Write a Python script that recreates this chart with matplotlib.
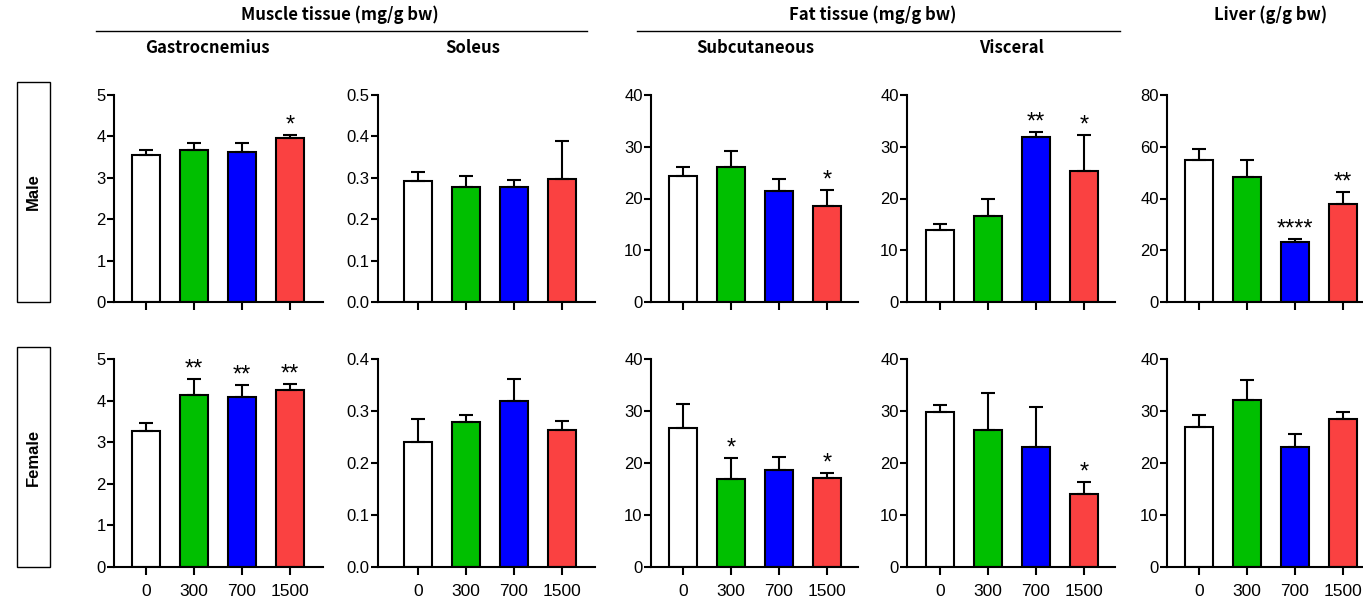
import os
import matplotlib
matplotlib.use("Agg")
import matplotlib.pyplot as plt
import matplotlib.font_manager as fm
from matplotlib.font_manager import FontProperties
from matplotlib.patches import Rectangle
from matplotlib.lines import Line2D
import numpy as np

# Dose groups (mg/kg) and bar colours
doses = ["0", "300", "700", "1500"]
bar_colors = ["#FFFFFF", "#00BF00", "#0000FF", "#FA4141"]

# Male: means and upper SEM
gas_m = [3.56, 3.67, 3.62, 3.95]
gas_m_sem = [0.11, 0.18, 0.23, 0.09]
sol_m = [0.292, 0.278, 0.278, 0.297]
sol_m_sem = [0.021, 0.027, 0.017, 0.093]
sub_m = [24.4, 26.1, 21.4, 18.5]
sub_m_sem = [1.6, 3.0, 2.3, 3.2]
vis_m = [14.0, 16.6, 31.9, 25.3]
vis_m_sem = [1.1, 3.4, 0.9, 6.9]
liv_m = [54.8, 48.3, 23.0, 37.9]
liv_m_sem = [4.2, 6.4, 1.3, 4.6]

# Female: means and upper SEM
gas_f = [3.26, 4.14, 4.08, 4.26]
gas_f_sem = [0.19, 0.37, 0.30, 0.14]
sol_f = [0.241, 0.279, 0.319, 0.263]
sol_f_sem = [0.044, 0.013, 0.042, 0.017]
sub_f = [26.7, 16.9, 18.7, 17.1]
sub_f_sem = [4.7, 4.1, 2.5, 1.0]
vis_f = [29.8, 26.3, 23.1, 14.0]
vis_f_sem = [1.3, 7.2, 7.7, 2.4]
liv_f = [26.9, 32.2, 23.1, 28.5]
liv_f_sem = [2.3, 3.8, 2.5, 1.4]

# Significance marks
sig_gas_m = ["", "", "", "*"]
sig_sol_m = ["", "", "", ""]
sig_sub_m = ["", "", "", "*"]
sig_vis_m = ["", "", "**", "*"]
sig_liv_m = ["", "", "****", "**"]
sig_gas_f = ["", "**", "**", "**"]
sig_sol_f = ["", "", "", ""]
sig_sub_f = ["", "*", "", "*"]
sig_vis_f = ["", "", "", "*"]
sig_liv_f = ["", "", "", ""]

# Axis ranges and tick steps
ylims_m = [(5, 1, "{:.0f}"), (0.5, 0.1, "{:.1f}"), (40, 10, "{:.0f}"), (40, 10, "{:.0f}"), (80, 20, "{:.0f}")]
ylims_f = [(5, 1, "{:.0f}"), (0.4, 0.1, "{:.1f}"), (40, 10, "{:.0f}"), (40, 10, "{:.0f}"), (40, 10, "{:.0f}")]

W, H = 1363, 601
fig = plt.figure(figsize=(W / 100, H / 100), dpi=100)


def font_file(stem):
    """Locate a font file by its file-name stem, so the regular-width face is used."""
    for f in fm.fontManager.ttflist:
        if os.path.splitext(os.path.basename(f.fname))[0] == stem:
            return f.fname
    return None


REG_FILE = font_file("LiberationSans-Regular")
BOLD_FILE = font_file("LiberationSans-Bold")


def sans(size, bold=False):
    path = BOLD_FILE if bold else REG_FILE
    if path:
        return FontProperties(fname=path, size=size)
    return FontProperties(family="Liberation Sans", weight="bold" if bold else "normal", size=size)


TITLE_FONT = "Noto Sans CJK KR"

# panel columns in pixels: (y-spine x, first bar centre x, right end x)
cols = [(114, 146, 323), (378, 418, 595), (651, 683, 858), (907, 940, 1115), (1167, 1199, 1363)]
step = 48.0
rows = [(95, 302), (359, 567)]


def px_axes(l, r, t, b):
    return fig.add_axes([l / W, 1 - b / H, (r - l) / W, (b - t) / H])


def draw_panel(ax, means, sems, sigs, ylim, show_labels):
    x = np.arange(len(means))
    ax.bar(x, means, width=0.6, color=bar_colors, edgecolor="black", linewidth=1.5, zorder=2)
    ax.errorbar(x, means, yerr=[np.zeros(len(means)), sems], fmt="none", ecolor="black",
                elinewidth=1.5, capsize=5, capthick=1.5, zorder=3)
    for xi, m, s, sg in zip(x, means, sems, sigs):
        if sg:
            ax.annotate(sg, (xi, m + s), xytext=(0, -1), textcoords="offset points",
                        ha="center", va="bottom", fontproperties=sans(17),
                        annotation_clip=False)
    top, stp, fmt = ylim
    ticks = np.arange(0, top + stp / 2, stp)
    ax.set_ylim(0, top)
    ax.set_yticks(ticks)
    ax.set_yticklabels([fmt.format(t) for t in ticks], fontproperties=sans(12))
    ax.set_xticks(x)
    if show_labels:
        ax.set_xticklabels(doses, fontproperties=sans(12.5))
    else:
        ax.set_xticklabels([])
    for side in ("top", "right"):
        ax.spines[side].set_visible(False)
    for side in ("left", "bottom"):
        ax.spines[side].set_linewidth(1.5)
    ax.tick_params(axis="y", length=5, width=1.5, pad=1)
    ax.tick_params(axis="x", length=6, width=1.5, pad=6)
    ax.patch.set_alpha(0)


data_m = [(gas_m, gas_m_sem, sig_gas_m), (sol_m, sol_m_sem, sig_sol_m), (sub_m, sub_m_sem, sig_sub_m),
          (vis_m, vis_m_sem, sig_vis_m), (liv_m, liv_m_sem, sig_liv_m)]
data_f = [(gas_f, gas_f_sem, sig_gas_f), (sol_f, sol_f_sem, sig_sol_f), (sub_f, sub_f_sem, sig_sub_f),
          (vis_f, vis_f_sem, sig_vis_f), (liv_f, liv_f_sem, sig_liv_f)]

for r, (data, lims) in enumerate([(data_m, ylims_m), (data_f, ylims_f)]):
    t, b = rows[r]
    for c, ((sx, fx, rx), (means, sems, sigs), yl) in enumerate(zip(cols, data, lims)):
        ax = px_axes(sx, rx, t, b)
        ax.set_xlim((sx - fx) / step, (rx - fx) / step)
        draw_panel(ax, means, sems, sigs, yl, show_labels=(r == 1))


def ftext(xp, yp, s, **kw):
    fig.text(xp / W, 1 - yp / H, s, ha="center", va="center", **kw)


# group headers with underline
ftext(340, 15, "Muscle tissue (mg/g bw)", family=TITLE_FONT, fontweight="bold", fontsize=12)
ftext(873, 15, "Fat tissue (mg/g bw)", family=TITLE_FONT, fontweight="bold", fontsize=12)
ftext(1271, 15, "Liver (g/g bw)", family=TITLE_FONT, fontweight="bold", fontsize=12)
for x0, x1 in [(96, 587), (637, 1120)]:
    fig.add_artist(Line2D([x0 / W, x1 / W], [1 - 31 / H, 1 - 31 / H], color="black", linewidth=1.0))

# tissue subtitles
for xp, s in [(207, "Gastrocnemius"), (473, "Soleus"), (755, "Subcutaneous"), (1012, "Visceral")]:
    ftext(xp, 48, s, family=TITLE_FONT, fontweight="bold", fontsize=12)

# sex row labels in boxes
for (t, b), s in [((82, 302), "Male"), ((347, 567), "Female")]:
    fig.add_artist(Rectangle((17 / W, 1 - b / H), 33 / W, (b - t) / H, transform=fig.transFigure,
                             facecolor="white", edgecolor="black", linewidth=1.0))
    ftext(33.5, (t + b) / 2, s, fontproperties=sans(12, bold=True), rotation=90)

fig.savefig("out.png", dpi=100)
